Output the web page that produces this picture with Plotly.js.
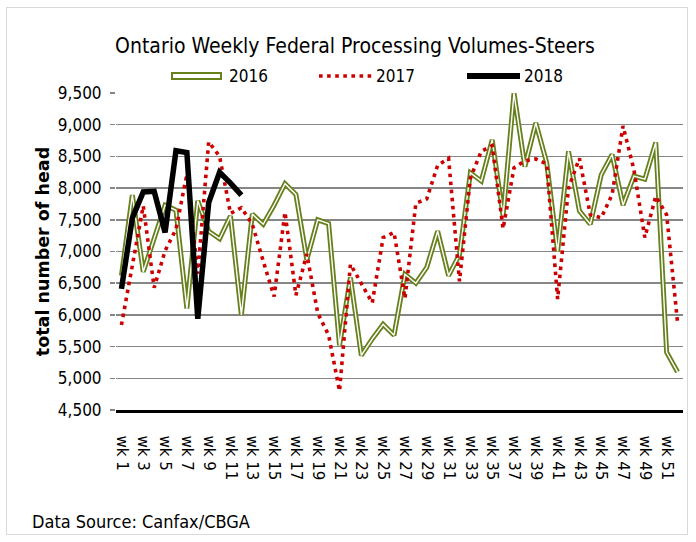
<!DOCTYPE html>
<html>
<head>
<meta charset="utf-8">
<script src="https://cdn.plot.ly/plotly-3.0.1.min.js"></script>
<style>
  html, body { margin: 0; padding: 0; background: #fff; }
  #wrap { position: relative; width: 696px; height: 542px; }
  #chart { width: 696px; height: 542px; }
  #frame { position: absolute; left: 6px; top: 7px; width: 682px; height: 528px;
           border: 1px solid #d9d9d9; pointer-events: none; box-sizing: border-box; }
</style>
</head>
<body>
<div id="wrap"><div id="chart"></div><div id="frame"></div></div>
<script>
// ---- data ----
const weeks = [
  'wk 1','wk 2','wk 3','wk 4','wk 5','wk 6','wk 7','wk 8','wk 9','wk 10',
  'wk 11','wk 12','wk 13','wk 14','wk 15','wk 16','wk 17','wk 18','wk 19','wk 20',
  'wk 21','wk 22','wk 23','wk 24','wk 25','wk 26','wk 27','wk 28','wk 29','wk 30',
  'wk 31','wk 32','wk 33','wk 34','wk 35','wk 36','wk 37','wk 38','wk 39','wk 40',
  'wk 41','wk 42','wk 43','wk 44','wk 45','wk 46','wk 47','wk 48','wk 49','wk 50',
  'wk 51','wk 52'
];
const tickWeeks = ['wk 1','wk 3','wk 5','wk 7','wk 9','wk 11','wk 13','wk 15','wk 17','wk 19',
  'wk 21','wk 23','wk 25','wk 27','wk 29','wk 31','wk 33','wk 35','wk 37','wk 39',
  'wk 41','wk 43','wk 45','wk 47','wk 49','wk 51'];
const v2016 = [6620,7890,6680,7220,7730,7650,6100,7800,7320,7200,
               7560,6000,7590,7430,7730,8070,7900,6870,7500,7440,
               5520,6590,5360,5620,5850,5680,6640,6500,6750,7320,
               6620,6950,8240,8110,8760,7560,9500,8340,9030,8400,
               7000,8580,7640,7430,8210,8530,7730,8190,8140,8720,
               5410,5100];
const v2017 = [5840,6800,7720,6430,7010,7350,8220,6650,8730,8500,
               7600,7690,7430,6850,6290,7620,6310,6960,6030,5680,
               4800,6800,6490,6190,7220,7300,6260,7760,7830,8360,
               8470,6530,8160,8580,8670,7360,8320,8430,8460,8380,
               6250,8000,8470,7580,7530,7900,8980,8290,7220,7870,
               7580,5880];
const v2018 = [6410,7530,7940,7950,7300,8590,8560,5940,7770,8250,8080,7890];
const seriesNames = ['2016','2017','2018'];
const chartTitle = 'Ontario Weekly Federal Processing Volumes-Steers';
const yTitle = 'total number of head';
const sourceNote = 'Data Source: Canfax/CBGA';

// ---- styling ----
const OLIVE = '#66801c', RED = '#cc0000';
const NARROW = '"Liberation Sans Narrow", "DejaVu Sans Condensed", "Roboto Condensed", "Arial Narrow", sans-serif';
const PL = 116, PR = 683, PT = 93, PB = 410, W = 696, H = 542;
const px2x = p => (p - PL) / (PR - PL);
const px2y = p => (PB - p) / (PB - PT);

const traces = [
  { x: weeks, y: v2016, type: 'scatter', mode: 'lines', name: seriesNames[0],
    line: { color: OLIVE, width: 5 }, hoverinfo: 'skip' },
  { x: weeks, y: v2016, type: 'scatter', mode: 'lines', name: seriesNames[0] + ' inner',
    line: { color: '#ffffff', width: 1.4 }, hoverinfo: 'skip' },
  { x: weeks, y: v2017, type: 'scatter', mode: 'lines', name: seriesNames[1],
    line: { color: RED, width: 3.6, dash: '3.6px,4.5px' } },
  { x: weeks.slice(0, v2018.length), y: v2018, type: 'scatter', mode: 'lines', name: seriesNames[2],
    line: { color: '#000000', width: 5.5 } }
];

const legY = px2y(76);
const layout = {
  width: W, height: H,
  margin: { l: PL, r: W - PR, t: PT, b: H - PB },
  paper_bgcolor: '#ffffff', plot_bgcolor: '#ffffff',
  showlegend: false,
  title: { text: chartTitle, x: 355 / W, xanchor: 'center', y: 1 - 46 / H, yanchor: 'middle',
           xref: 'container', yref: 'container',
           font: { family: NARROW, size: 21, color: '#000' } },
  xaxis: {
    type: 'category', range: [-0.5, 51.5],
    tickmode: 'array', tickvals: tickWeeks, ticktext: tickWeeks,
    tickangle: 90, ticks: '', ticklabelstandoff: 20,
    tickfont: { family: 'DejaVu Sans', size: 15, color: '#000' },
    showgrid: false, showline: true, linecolor: '#000', linewidth: 2.5,
    zeroline: false, fixedrange: true
  },
  yaxis: {
    range: [4500, 9500], dtick: 500, tick0: 4500, tickformat: ',d',
    tickfont: { family: NARROW, size: 17, color: '#000' },
    ticks: 'outside', ticklen: 5, tickcolor: '#868686', tickwidth: 1.5,
    ticklabelstandoff: 5,
    showgrid: true, gridcolor: '#868686', gridwidth: 1.5,
    showline: false, zeroline: false, fixedrange: true,
    title: { text: yTitle, standoff: 3,
             font: { family: 'DejaVu Sans', size: 17.5, color: '#000', weight: 'bold' } }
  },
  shapes: [
    { type: 'rect', xref: 'paper', yref: 'paper',
      x0: px2x(172), x1: px2x(221), y0: px2y(79), y1: px2y(73),
      line: { color: OLIVE, width: 2 }, fillcolor: '#ffffff' },
    { type: 'line', xref: 'paper', yref: 'paper',
      x0: px2x(319), x1: px2x(372), y0: legY, y1: legY,
      line: { color: RED, width: 3.6, dash: '3.6px,4.5px' } },
    { type: 'line', xref: 'paper', yref: 'paper',
      x0: px2x(467), x1: px2x(520), y0: legY, y1: legY,
      line: { color: '#000', width: 6 } }
  ],
  annotations: [
    { text: seriesNames[0], xref: 'paper', yref: 'paper', x: px2x(227), y: legY,
      xanchor: 'left', yanchor: 'middle', showarrow: false,
      font: { family: NARROW, size: 17, color: '#000' } },
    { text: seriesNames[1], xref: 'paper', yref: 'paper', x: px2x(374), y: legY,
      xanchor: 'left', yanchor: 'middle', showarrow: false,
      font: { family: NARROW, size: 17, color: '#000' } },
    { text: seriesNames[2], xref: 'paper', yref: 'paper', x: px2x(522), y: legY,
      xanchor: 'left', yanchor: 'middle', showarrow: false,
      font: { family: NARROW, size: 17, color: '#000' } },
    { text: sourceNote, xref: 'paper', yref: 'paper', x: px2x(30), y: px2y(521),
      xanchor: 'left', yanchor: 'middle', showarrow: false,
      font: { family: NARROW, size: 18, color: '#000' } }
  ]
};

Plotly.newPlot('chart', traces, layout, { staticPlot: true, displayModeBar: false });
</script>
</body>
</html>
